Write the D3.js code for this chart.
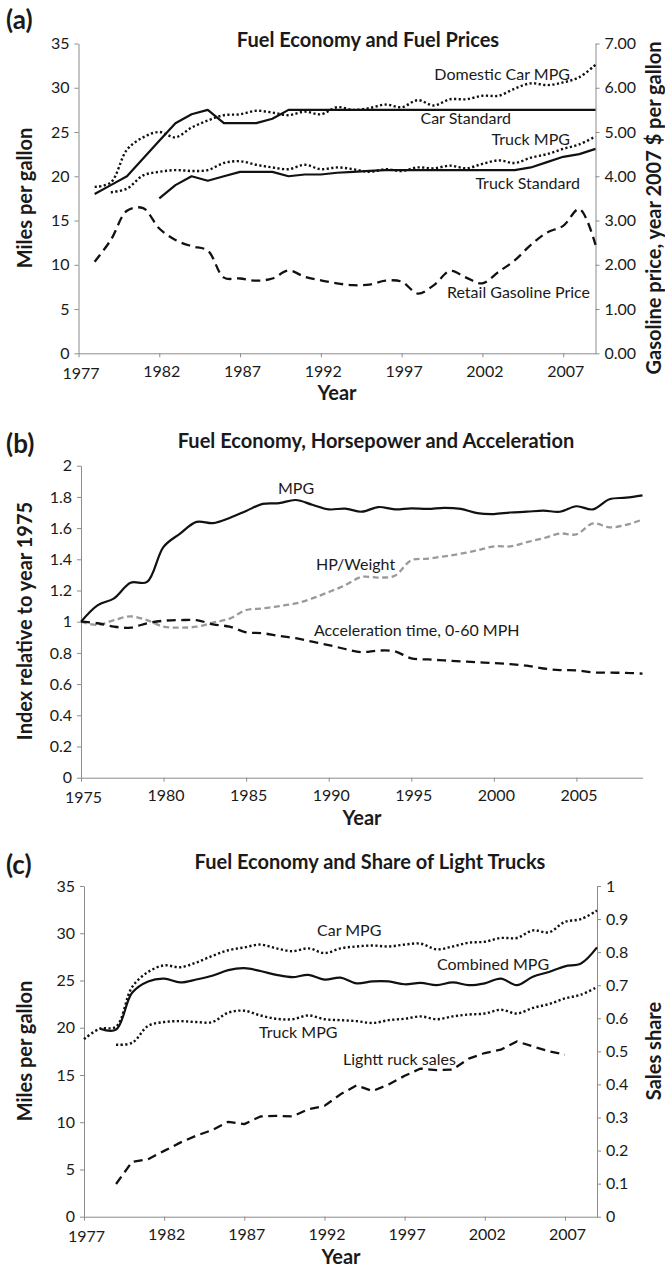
<!DOCTYPE html>
<html>
<head>
<meta charset="utf-8">
<script src="https://cdn.jsdelivr.net/npm/d3@7/dist/d3.min.js"></script>
<style>
  body { margin: 0; background: #fff; }
  text { font-family: Lato, "Open Sans", sans-serif; fill: #1a1a1a; }
  .tick text { font-size: 16px; }
  .domain, .tick line { stroke: #8c8c8c; }
  .ttl { font-weight: bold; font-size: 20px; }
  .axt { font-weight: bold; font-size: 20px; }
  .pnl { font-weight: bold; font-size: 26px; }
  .ann { font-size: 16px; }
</style>
</head>
<body>
<script>
// ---- panel (a): fuel economy and fuel prices ----
var ticksYearA = [1977, 1982, 1987, 1992, 1997, 2002, 2007];
var ticksMpgA = [0, 5, 10, 15, 20, 25, 30, 35];
var ticksPriceA = [0, 1, 2, 3, 4, 5, 6, 7];

var carStdStart = 1978;
var carStd = [18, 19, 20, 22, 24, 26, 27, 27.5, 26, 26, 26, 26.5,
  27.5, 27.5, 27.5, 27.5, 27.5, 27.5, 27.5, 27.5, 27.5, 27.5,
  27.5, 27.5, 27.5, 27.5, 27.5, 27.5, 27.5, 27.5, 27.5, 27.5];

var truckStdStart = 1982;
var truckStd = [17.5, 19, 20, 19.5, 20, 20.5, 20.5, 20.5, 20, 20.2,
  20.2, 20.4, 20.5, 20.6, 20.7, 20.7, 20.7, 20.7, 20.7, 20.7,
  20.7, 20.7, 20.7, 21.0, 21.6, 22.2, 22.5, 23.1];

var domCarStart = 1978;
var domCarMpg = [18.8, 19.3, 23.0, 24.4, 25.0, 24.4, 25.5, 26.3, 26.9, 27.0,
  27.4, 27.2, 26.9, 27.3, 27.0, 27.8, 27.5, 27.7, 28.1, 27.8,
  28.6, 28.0, 28.7, 28.7, 29.1, 29.1, 29.9, 30.5, 30.3, 30.6, 31.2, 32.6];

var truckMpgAStart = 1979;
var truckMpgA = [18.2, 18.6, 20.1, 20.5, 20.7, 20.6, 20.7, 21.5, 21.7, 21.3,
  21.0, 20.8, 21.3, 20.8, 21.0, 20.8, 20.5, 20.8, 20.6, 21.0,
  20.9, 21.2, 20.9, 21.4, 21.8, 21.5, 22.1, 22.5, 23.1, 23.6, 24.5];

var gasStart = 1978;
var gasPrice = [2.07, 2.56, 3.22, 3.28, 2.82, 2.56, 2.42, 2.32, 1.71, 1.69,
  1.64, 1.69, 1.87, 1.73, 1.65, 1.58, 1.54, 1.55, 1.64, 1.62,
  1.35, 1.54, 1.86, 1.71, 1.58, 1.84, 2.10, 2.45, 2.73, 2.88, 3.26, 2.45];

// ---- panel (b): index relative to 1975 ----
var ticksYearB = [1975, 1980, 1985, 1990, 1995, 2000, 2005];
var ticksIndexB = [0, 0.2, 0.4, 0.6, 0.8, 1, 1.2, 1.4, 1.6, 1.8, 2];
var indexStart = 1975;
var mpgIndex = [1.0, 1.105, 1.15, 1.25, 1.255, 1.48, 1.565, 1.64, 1.632, 1.665,
  1.71, 1.755, 1.76, 1.78, 1.75, 1.72, 1.725, 1.705, 1.735, 1.72,
  1.727, 1.723, 1.73, 1.723, 1.696, 1.69, 1.70, 1.705, 1.712, 1.705,
  1.74, 1.72, 1.785, 1.795, 1.81];
var hpWeight = [1.0, 0.979, 1.01, 1.034, 1.01, 0.968, 0.962, 0.968, 0.994, 1.02,
  1.075, 1.085, 1.10, 1.117, 1.149, 1.19, 1.234, 1.287, 1.283, 1.295,
  1.394, 1.404, 1.419, 1.436, 1.457, 1.483, 1.483, 1.51, 1.535, 1.565,
  1.56, 1.63, 1.605, 1.62, 1.655];
var accelTime = [1.0, 0.99, 0.968, 0.962, 0.99, 1.006, 1.01, 1.01, 0.983, 0.968,
  0.932, 0.926, 0.909, 0.894, 0.872, 0.85, 0.825, 0.805, 0.815, 0.81,
  0.765, 0.758, 0.752, 0.746, 0.74, 0.735, 0.728, 0.718, 0.70, 0.69,
  0.688, 0.675, 0.673, 0.672, 0.667];

// ---- panel (c): fuel economy and share of light trucks ----
var ticksYearC = [1977, 1982, 1987, 1992, 1997, 2002, 2007];
var ticksMpgC = [0, 5, 10, 15, 20, 25, 30, 35];
var ticksShareC = [0, 0.1, 0.2, 0.3, 0.4, 0.5, 0.6, 0.7, 0.8, 0.9, 1];

var carMpgCStart = 1977;
var carMpgC = [18.8, 19.9, 20.1, 24.3, 25.9, 26.6, 26.4, 26.9, 27.6, 28.2,
  28.5, 28.8, 28.4, 28.1, 28.4, 27.9, 28.4, 28.6, 28.7, 28.6,
  28.8, 28.9, 28.3, 28.6, 29.0, 29.1, 29.5, 29.5, 30.3, 30.1,
  31.2, 31.5, 32.4];
var combMpgStart = 1978;
var combMpg = [19.9, 19.8, 23.7, 24.9, 25.2, 24.8, 25.1, 25.5, 26.1, 26.3,
  26.0, 25.6, 25.35, 25.6, 25.1, 25.3, 24.7, 24.9, 24.9, 24.6,
  24.75, 24.5, 24.8, 24.5, 24.7, 25.2, 24.5, 25.4, 25.9, 26.5, 26.8, 28.5];
var truckMpgCStart = 1979;
var truckMpgC = [18.2, 18.4, 20.2, 20.6, 20.7, 20.6, 20.6, 21.6, 21.8, 21.3,
  20.95, 20.9, 21.3, 20.9, 20.8, 20.7, 20.5, 20.8, 20.95, 21.2,
  20.9, 21.2, 21.4, 21.5, 21.9, 21.5, 22.1, 22.5, 23.1, 23.5, 24.3];
var truckShareStart = 1979;
var truckShare = [0.099, 0.166, 0.174, 0.199, 0.224, 0.245, 0.262, 0.287, 0.28, 0.303,
  0.305, 0.303, 0.325, 0.335, 0.37, 0.397, 0.38, 0.40, 0.426, 0.448,
  0.443, 0.445, 0.478, 0.495, 0.505, 0.53, 0.515, 0.50, 0.49];

var width = 665, height = 1267;

var svg = d3.select("body").append("svg")
  .attr("width", width)
  .attr("height", height);

function series(start, vals) {
  return vals.map(function(v, i) { return {year: start + i, v: v}; });
}

// line styles
var SOLID = {stroke: "#111", dash: null, w: 2.2};
var DOTTED = {stroke: "#111", dash: "2.2,2.4", w: 2.4};
var DASHED = {stroke: "#111", dash: "9,5.5", w: 2.3};
var GREYDASH = {stroke: "#9a9a9a", dash: "6,3.5", w: 2.3};

function drawLine(g, x, y, data, st, curve) {
  g.append("path")
    .datum(data)
    .attr("fill", "none")
    .attr("stroke", st.stroke)
    .attr("stroke-width", st.w)
    .attr("stroke-dasharray", st.dash)
    .attr("stroke-linejoin", "round")
    .attr("d", d3.line()
      .x(function(d) { return x(d.year); })
      .y(function(d) { return y(d.v); })
      .curve(curve || d3.curveLinear));
}

function axes(g, x, y, yTicks, xTicks, yFmt) {
  var gx = g.append("g")
    .attr("transform", "translate(0," + y.range()[0] + ")")
    .call(d3.axisBottom(x).tickValues(xTicks).tickFormat(d3.format("d"))
      .tickSize(4).tickSizeOuter(0).tickPadding(8));
  // excel puts the labels a touch right, first one a touch lower
  gx.selectAll(".tick text").attr("dx", 2)
    .attr("dy", function(d, i) { return i === 0 ? "0.85em" : "0.71em"; });
  g.append("g")
    .attr("transform", "translate(" + x.range()[0] + ",0)")
    .call(d3.axisLeft(y).tickValues(yTicks).tickFormat(yFmt)
      .tickSize(4).tickSizeOuter(0).tickPadding(5));
}

function rightAxis(g, x, y, ticks, fmt) {
  g.append("g")
    .attr("transform", "translate(" + x.range()[1] + ",0)")
    .call(d3.axisRight(y).tickValues(ticks).tickFormat(fmt)
      .tickSize(4).tickSizeOuter(0).tickPadding(5));
}

function label(g, txt, x, y, cls, anchor) {
  g.append("text").attr("class", cls).attr("x", x).attr("y", y)
    .attr("text-anchor", anchor || "start").text(txt);
}

function vlabel(g, txt, x, y, cls) {
  g.append("text").attr("class", cls)
    .attr("transform", "translate(" + x + "," + y + ") rotate(-90)")
    .attr("text-anchor", "middle")
    .attr("dominant-baseline", "central")
    .text(txt);
}

var smooth = d3.curveCatmullRom.alpha(0.5);

// ===== panel (a) =====
var ga = svg.append("g");
var xa = d3.scaleLinear().domain([1977, 2009]).range([78.5, 595.5]);
var ya = d3.scaleLinear().domain([0, 35]).range([353.3, 43.5]);
var yaR = d3.scaleLinear().domain([0, 7]).range([353.3, 43.5]);

axes(ga, xa, ya, ticksMpgA, ticksYearA, d3.format("d"));
rightAxis(ga, xa, yaR, ticksPriceA, d3.format(".2f"));

drawLine(ga, xa, ya, series(carStdStart, carStd), SOLID);
drawLine(ga, xa, ya, series(truckStdStart, truckStd), SOLID);
drawLine(ga, xa, ya, series(domCarStart, domCarMpg), DOTTED, smooth);
drawLine(ga, xa, ya, series(truckMpgAStart, truckMpgA), DOTTED, smooth);
drawLine(ga, xa, yaR, series(gasStart, gasPrice), DASHED, smooth);

label(ga, "(a)", 6, 29, "pnl");
label(ga, "Fuel Economy and Fuel Prices", 368, 47, "ttl", "middle");
label(ga, "Domestic Car MPG", 570, 80, "ann", "end");
label(ga, "Car Standard", 511, 124, "ann", "end");
label(ga, "Truck MPG", 570, 145, "ann", "end");
label(ga, "Truck Standard", 580, 189, "ann", "end");
label(ga, "Retail Gasoline Price", 590, 298, "ann", "end");
label(ga, "Year", 337, 400, "axt", "middle");
vlabel(ga, "Miles per gallon", 24, 198, "axt");
vlabel(ga, "Gasoline price, year 2007 $ per gallon", 653, 208, "axt");

// ===== panel (b) =====
var gb = svg.append("g");
var xb = d3.scaleLinear().domain([1975, 2009]).range([81, 642.5]);
var yb = d3.scaleLinear().domain([0, 2]).range([777.7, 465.7]);

axes(gb, xb, yb, ticksIndexB, ticksYearB, d3.format("~g"));

drawLine(gb, xb, yb, series(indexStart, hpWeight), GREYDASH, smooth);
drawLine(gb, xb, yb, series(indexStart, accelTime), DASHED, smooth);
drawLine(gb, xb, yb, series(indexStart, mpgIndex), SOLID, smooth);

label(gb, "(b)", 6, 453, "pnl");
label(gb, "Fuel Economy, Horsepower and Acceleration", 376, 448, "ttl", "middle");
label(gb, "MPG", 278, 494, "ann");
label(gb, "HP/Weight", 316, 570, "ann");
label(gb, "Acceleration time, 0-60 MPH", 314, 636, "ann");
label(gb, "Year", 362, 825, "axt", "middle");
vlabel(gb, "Index relative to year 1975", 24, 621, "axt");

// ===== panel (c) =====
var gc = svg.append("g");
var xc = d3.scaleLinear().domain([1977, 2009]).range([84, 597]);
var yc = d3.scaleLinear().domain([0, 35]).range([1216.7, 886]);
var ycR = d3.scaleLinear().domain([0, 1]).range([1216.7, 886]);

axes(gc, xc, yc, ticksMpgC, ticksYearC, d3.format("d"));
rightAxis(gc, xc, ycR, ticksShareC, d3.format("~g"));

drawLine(gc, xc, yc, series(carMpgCStart, carMpgC), DOTTED, smooth);
drawLine(gc, xc, yc, series(truckMpgCStart, truckMpgC), DOTTED, smooth);
drawLine(gc, xc, yc, series(combMpgStart, combMpg), SOLID, smooth);
drawLine(gc, xc, ycR, series(truckShareStart, truckShare), DASHED);

label(gc, "(c)", 6, 874, "pnl");
label(gc, "Fuel Economy and Share of Light Trucks", 370, 869, "ttl", "middle");
label(gc, "Car MPG", 317, 936, "ann");
label(gc, "Combined MPG", 437, 970, "ann");
label(gc, "Truck MPG", 259, 1038, "ann");
label(gc, "Lightt ruck sales", 343, 1065, "ann");
label(gc, "Year", 341, 1264, "axt", "middle");
vlabel(gc, "Miles per gallon", 24, 1051, "axt");
vlabel(gc, "Sales share", 653, 1051, "axt");
</script>
</body>
</html>
